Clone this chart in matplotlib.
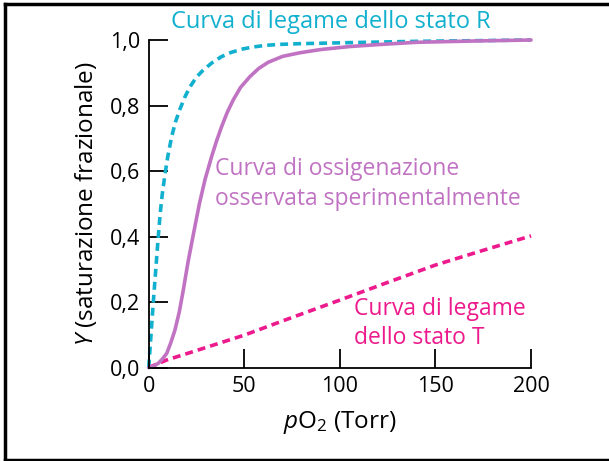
import matplotlib.pyplot as plt
from matplotlib.lines import Line2D

plt.rcParams['font.family'] = ['Open Sans', 'DejaVu Sans']
plt.rcParams['mathtext.fontset'] = 'custom'
plt.rcParams['mathtext.rm'] = 'Open Sans'
plt.rcParams['mathtext.it'] = 'Open Sans:italic'

# pO2 (Torr) vs frazione di saturazione
p_R = [0, 1.2, 2.4, 3.7, 5.0, 6.0, 7.0, 8.5, 10, 12, 14, 16.4, 19, 21.6, 25, 28.5, 33, 38, 43, 49.4, 55, 61.6, 70, 80, 105, 140, 200]
y_R = [0, 0.10, 0.20, 0.30, 0.40, 0.47, 0.525, 0.59, 0.645, 0.705, 0.75, 0.79, 0.827, 0.857, 0.887, 0.908, 0.93, 0.949, 0.962, 0.973, 0.979, 0.984, 0.987, 0.989, 0.992, 0.996, 1.0]

p_obs = [0, 2.5, 5, 7, 9.4, 11.5, 13.7, 16, 18.1, 20.5, 23.3, 26.5, 29.5, 32.9, 35.5, 38.1, 41, 44.2, 48, 52.9, 57.5, 62.5, 70, 79, 90, 105, 120, 140, 170, 200]
y_obs = [0, 0.004, 0.013, 0.025, 0.043, 0.075, 0.114, 0.17, 0.237, 0.32, 0.405, 0.50, 0.575, 0.644, 0.692, 0.735, 0.778, 0.817, 0.855, 0.888, 0.913, 0.932, 0.950, 0.961, 0.971, 0.980, 0.986, 0.993, 0.997, 1.0]

p_T = [0, 4, 9.4, 25, 50, 75, 100, 125, 150, 175, 200]
y_T = [0, 0.010, 0.023, 0.052, 0.099, 0.153, 0.206, 0.26, 0.313, 0.358, 0.402]

x_ticks = [0, 50, 100, 150, 200]
y_ticks = [0.0, 0.2, 0.4, 0.6, 0.8, 1.0]
y_ticklabels = ['0,0', '0,2', '0,4', '0,6', '0,8', '1,0']

c_R = '#12B0CF'
c_obs = '#C173C3'
c_T = '#EC1A8C'

fig = plt.figure(figsize=(6.09, 4.61), dpi=100)
ax = fig.add_axes([0.2442, 0.2027, 0.6278, 0.7105])

dash = (0, (2.2, 1.4))
ax.plot(p_R, y_R, color=c_R, lw=2.6, linestyle=dash, clip_on=False)
ax.plot(p_T, y_T, color=c_T, lw=2.6, linestyle=dash, clip_on=False)
ax.plot(p_obs, y_obs, color=c_obs, lw=2.6, clip_on=False, solid_capstyle='round')

ax.set_xlim(0, 200)
ax.set_ylim(0, 1.0)
ax.set_xticks(x_ticks)
ax.set_xticklabels([str(v) for v in x_ticks])
ax.set_yticks(y_ticks)
ax.set_yticklabels(y_ticklabels)
for s in ['top', 'right']:
    ax.spines[s].set_visible(False)
for s in ['left', 'bottom']:
    ax.spines[s].set_linewidth(1.3)
ax.tick_params(direction='in', length=13.5, width=1.3, labelsize=15.5, pad=6)
ax.tick_params(axis='x', pad=6)

ax.set_xlabel('$p$O$_2$ (Torr)', fontsize=17.5, labelpad=9)
ax.set_ylabel('$Y$ (saturazione frazionale)', fontsize=17.5, labelpad=8)

ax.text(11.6, 1.055, 'Curva di legame dello stato R', color=c_R, fontsize=17,
        ha='left', va='center')
ax.text(34.7, 0.56, 'Curva di ossigenazione\nosservata sperimentalmente', color=c_obs,
        fontsize=16.5, ha='left', va='center', linespacing=1.3)
ax.text(107.3, 0.134, 'Curva di legame\ndello stato T', color=c_T,
        fontsize=16.5, ha='left', va='center', linespacing=1.3)

# cornice esterna (aperta a destra)
fw, fh = 609, 461
for xs, ys in [([4.5, 609], [456.5, 456.5]), ([4.5, 4.5], [1.5, 456.5]), ([4.5, 609], [1.5, 1.5])]:
    fig.add_artist(Line2D([x / fw for x in xs], [y / fh for y in ys], color='black', lw=2.5,
                          transform=fig.transFigure))

fig.savefig('out.png', dpi=100)
